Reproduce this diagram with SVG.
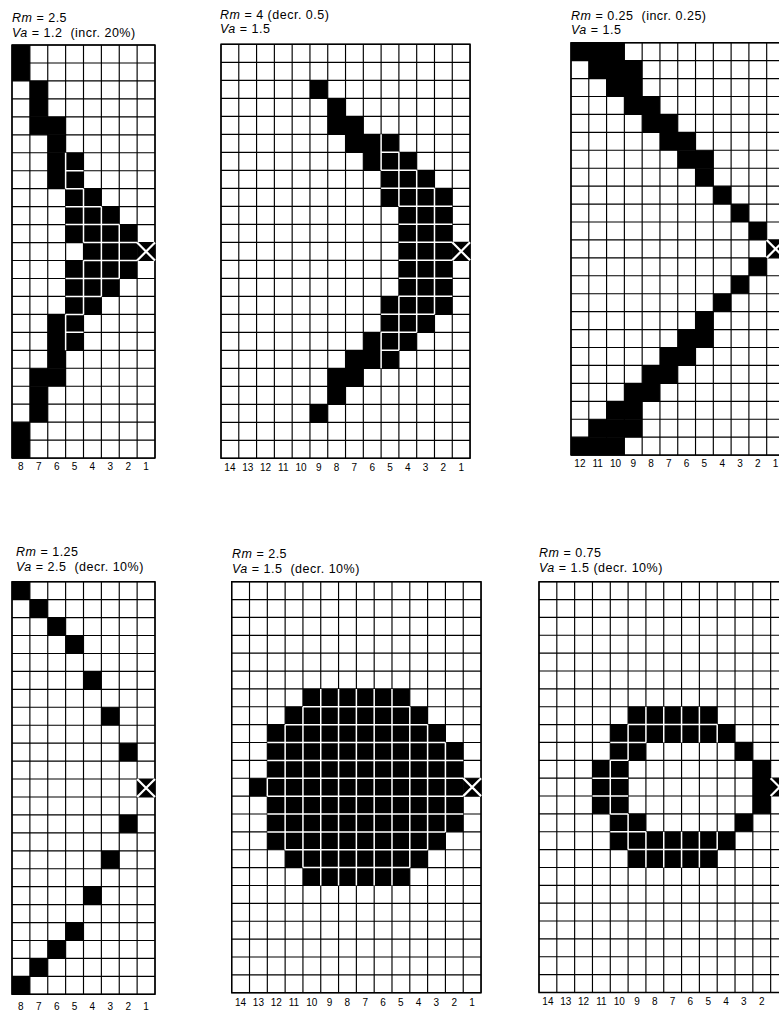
<svg xmlns="http://www.w3.org/2000/svg" xmlns:xlink="http://www.w3.org/1999/xlink" width="779" height="1012" viewBox="0 0 779 1012">
<style>
.grid{fill:none;stroke:#000;stroke-width:1.15;vector-effect:non-scaling-stroke}
.frame{fill:none;stroke:#000;stroke-width:1.4;vector-effect:non-scaling-stroke}
.b rect,rect.b{fill:#000}
.w{fill:none;stroke:#fff;stroke-width:1.5;vector-effect:non-scaling-stroke}
.x{fill:none;stroke:#fff;stroke-width:2.2;vector-effect:non-scaling-stroke}
.t{font-family:"Liberation Sans",Arial,sans-serif;font-size:12.5px;letter-spacing:0.5px;fill:#000}
.i{font-style:italic}
.n{font-family:"Liberation Sans",Arial,sans-serif;font-size:10px;fill:#000;text-anchor:middle}
</style>
<defs>
<path id="g8" class="grid" d="M0 0V23M1 0V23M2 0V23M3 0V23M4 0V23M5 0V23M6 0V23M7 0V23M8 0V23M0 0H8M0 1H8M0 2H8M0 3H8M0 4H8M0 5H8M0 6H8M0 7H8M0 8H8M0 9H8M0 10H8M0 11H8M0 12H8M0 13H8M0 14H8M0 15H8M0 16H8M0 17H8M0 18H8M0 19H8M0 20H8M0 21H8M0 22H8M0 23H8"/>
<path id="g12" class="grid" d="M0 0V23M1 0V23M2 0V23M3 0V23M4 0V23M5 0V23M6 0V23M7 0V23M8 0V23M9 0V23M10 0V23M11 0V23M12 0V23M0 0H12M0 1H12M0 2H12M0 3H12M0 4H12M0 5H12M0 6H12M0 7H12M0 8H12M0 9H12M0 10H12M0 11H12M0 12H12M0 13H12M0 14H12M0 15H12M0 16H12M0 17H12M0 18H12M0 19H12M0 20H12M0 21H12M0 22H12M0 23H12"/>
<path id="g14" class="grid" d="M0 0V23M1 0V23M2 0V23M3 0V23M4 0V23M5 0V23M6 0V23M7 0V23M8 0V23M9 0V23M10 0V23M11 0V23M12 0V23M13 0V23M14 0V23M0 0H14M0 1H14M0 2H14M0 3H14M0 4H14M0 5H14M0 6H14M0 7H14M0 8H14M0 9H14M0 10H14M0 11H14M0 12H14M0 13H14M0 14H14M0 15H14M0 16H14M0 17H14M0 18H14M0 19H14M0 20H14M0 21H14M0 22H14M0 23H14"/>
</defs>
<rect width="779" height="1012" fill="#fff"/>

<g id="panel-1">
<text class="t" x="12" y="21.5" xml:space="preserve"><tspan class="i">Rm</tspan> = 2.5</text>
<text class="t" x="12" y="36.5" xml:space="preserve"><tspan class="i">Va</tspan> = 1.2  (incr. 20%)</text>
<g transform="translate(12 45) scale(17.875 17.96)">
<use href="#g8"/>
<rect class="frame" width="8" height="23"/>
<g class="b">
<rect x="0" y="0" width="1" height="2"/>
<rect x="1" y="2" width="1" height="2"/>
<rect x="1" y="4" width="2" height="1"/>
<rect x="2" y="5" width="1" height="1"/>
<rect x="2" y="6" width="2" height="2"/>
<rect x="3" y="8" width="2" height="1"/>
<rect x="3" y="9" width="3" height="1"/>
<rect x="3" y="10" width="4" height="1"/>
<rect x="4" y="11" width="3" height="1"/>
<rect x="3" y="12" width="4" height="1"/>
<rect x="3" y="13" width="3" height="1"/>
<rect x="3" y="14" width="2" height="1"/>
<rect x="2" y="15" width="2" height="2"/>
<rect x="2" y="17" width="1" height="1"/>
<rect x="1" y="18" width="2" height="1"/>
<rect x="1" y="19" width="1" height="2"/>
<rect x="0" y="21" width="1" height="2"/>
<rect x="7" y="11" width="1" height="1"/>
</g>
<path class="w" d="M3 6V8M3 15V17M4 8V11M4 12V15M5 9V14M6 10V13M3 7H4M3 8H4M3 9H5M3 10H6M4 11H7M4 12H7M3 13H6M3 14H5M3 15H4M3 16H4"/>
<path class="x" d="M7 11L8 12M8 11L7 12"/>
</g>
<text class="n" y="470"><tspan x="20.9">8</tspan><tspan x="38.8">7</tspan><tspan x="56.7">6</tspan><tspan x="74.6">5</tspan><tspan x="92.4">4</tspan><tspan x="110.3">3</tspan><tspan x="128.2">2</tspan><tspan x="146.1">1</tspan></text>
</g>

<g id="panel-2">
<text class="t" x="220" y="18.5" xml:space="preserve"><tspan class="i">Rm</tspan> = 4 (decr. 0.5)</text>
<text class="t" x="220" y="33" xml:space="preserve"><tspan class="i">Va</tspan> = 1.5</text>
<g transform="translate(221 44.3) scale(17.79 18)">
<use href="#g14"/>
<rect class="frame" width="14" height="23"/>
<g class="b">
<rect x="5" y="2" width="1" height="1"/>
<rect x="6" y="3" width="1" height="1"/>
<rect x="6" y="4" width="2" height="1"/>
<rect x="7" y="5" width="3" height="1"/>
<rect x="8" y="6" width="3" height="1"/>
<rect x="9" y="7" width="3" height="1"/>
<rect x="9" y="8" width="4" height="1"/>
<rect x="10" y="9" width="3" height="5"/>
<rect x="9" y="14" width="4" height="1"/>
<rect x="9" y="15" width="3" height="1"/>
<rect x="8" y="16" width="3" height="1"/>
<rect x="7" y="17" width="3" height="1"/>
<rect x="6" y="18" width="2" height="1"/>
<rect x="6" y="19" width="1" height="1"/>
<rect x="5" y="20" width="1" height="1"/>
<rect x="13" y="11" width="1" height="1"/>
</g>
<path class="w" d="M9 5V7M9 16V18M10 6V9M10 14V17M11 7V16M12 8V15M9 6H10M9 7H11M9 8H12M10 9H13M10 10H13M10 11H13M10 12H13M10 13H13M10 14H13M9 15H12M9 16H11M9 17H10"/>
<path class="x" d="M13 11L14 12M14 11L13 12"/>
</g>
<text class="n" y="471"><tspan x="229.9">14</tspan><tspan x="247.7">13</tspan><tspan x="265.5">12</tspan><tspan x="283.3">11</tspan><tspan x="301.1">10</tspan><tspan x="318.8">9</tspan><tspan x="336.6">8</tspan><tspan x="354.4">7</tspan><tspan x="372.2">6</tspan><tspan x="390">5</tspan><tspan x="407.8">4</tspan><tspan x="425.6">3</tspan><tspan x="443.4">2</tspan><tspan x="461.2">1</tspan></text>
</g>

<g id="panel-3">
<text class="t" x="571" y="20" xml:space="preserve"><tspan class="i">Rm</tspan> = 0.25  (incr. 0.25)</text>
<text class="t" x="571" y="33.5" xml:space="preserve"><tspan class="i">Va</tspan> = 1.5</text>
<g transform="translate(571 42.7) scale(17.79 17.93)">
<use href="#g12"/>
<rect class="frame" width="12" height="23"/>
<g class="b">
<rect x="0" y="0" width="3" height="1"/>
<rect x="1" y="1" width="3" height="1"/>
<rect x="2" y="2" width="2" height="1"/>
<rect x="3" y="3" width="2" height="1"/>
<rect x="4" y="4" width="2" height="1"/>
<rect x="5" y="5" width="2" height="1"/>
<rect x="6" y="6" width="2" height="1"/>
<rect x="7" y="7" width="1" height="1"/>
<rect x="8" y="8" width="1" height="1"/>
<rect x="9" y="9" width="1" height="1"/>
<rect x="10" y="10" width="1" height="1"/>
<rect x="11" y="11" width="1" height="1"/>
<rect x="10" y="12" width="1" height="1"/>
<rect x="9" y="13" width="1" height="1"/>
<rect x="8" y="14" width="1" height="1"/>
<rect x="7" y="15" width="1" height="1"/>
<rect x="6" y="16" width="2" height="1"/>
<rect x="5" y="17" width="2" height="1"/>
<rect x="4" y="18" width="2" height="1"/>
<rect x="3" y="19" width="2" height="1"/>
<rect x="2" y="20" width="2" height="1"/>
<rect x="1" y="21" width="3" height="1"/>
<rect x="0" y="22" width="3" height="1"/>
</g>
<path class="x" d="M11 11L12 12M12 11L11 12"/>
</g>
<text class="n" y="467"><tspan x="579.9">12</tspan><tspan x="597.7">11</tspan><tspan x="615.5">10</tspan><tspan x="633.3">9</tspan><tspan x="651.1">8</tspan><tspan x="668.8">7</tspan><tspan x="686.6">6</tspan><tspan x="704.4">5</tspan><tspan x="722.2">4</tspan><tspan x="740">3</tspan><tspan x="757.8">2</tspan><tspan x="775.6">1</tspan></text>
</g>

<g id="panel-4">
<text class="t" x="16" y="556" xml:space="preserve"><tspan class="i">Rm</tspan> = 1.25</text>
<text class="t" x="16" y="571" xml:space="preserve"><tspan class="i">Va</tspan> = 2.5  (decr. 10%)</text>
<g transform="translate(12 581.7) scale(17.875 17.94)">
<use href="#g8"/>
<rect class="frame" width="8" height="23"/>
<g class="b">
<rect x="0" y="0" width="1" height="1"/>
<rect x="1" y="1" width="1" height="1"/>
<rect x="2" y="2" width="1" height="1"/>
<rect x="3" y="3" width="1" height="1"/>
<rect x="4" y="5" width="1" height="1"/>
<rect x="5" y="7" width="1" height="1"/>
<rect x="6" y="9" width="1" height="1"/>
<rect x="7" y="11" width="1" height="1"/>
<rect x="6" y="13" width="1" height="1"/>
<rect x="5" y="15" width="1" height="1"/>
<rect x="4" y="17" width="1" height="1"/>
<rect x="3" y="19" width="1" height="1"/>
<rect x="2" y="20" width="1" height="1"/>
<rect x="1" y="21" width="1" height="1"/>
<rect x="0" y="22" width="1" height="1"/>
</g>
<path class="x" d="M7 11L8 12M8 11L7 12"/>
</g>
<text class="n" y="1010"><tspan x="20.9">8</tspan><tspan x="38.8">7</tspan><tspan x="56.7">6</tspan><tspan x="74.6">5</tspan><tspan x="92.4">4</tspan><tspan x="110.3">3</tspan><tspan x="128.2">2</tspan><tspan x="146.1">1</tspan></text>
</g>

<g id="panel-5">
<text class="t" x="232" y="558" xml:space="preserve"><tspan class="i">Rm</tspan> = 2.5</text>
<text class="t" x="232" y="573" xml:space="preserve"><tspan class="i">Va</tspan> = 1.5  (decr. 10%)</text>
<g transform="translate(231.7 581.7) scale(17.81 17.87)">
<use href="#g14"/>
<rect class="frame" width="14" height="23"/>
<g class="b">
<rect x="4" y="6" width="6" height="1"/>
<rect x="3" y="7" width="8" height="1"/>
<rect x="2" y="8" width="10" height="1"/>
<rect x="2" y="9" width="11" height="5"/>
<rect x="1" y="11" width="1" height="1"/>
<rect x="2" y="14" width="10" height="1"/>
<rect x="3" y="15" width="8" height="1"/>
<rect x="4" y="16" width="6" height="1"/>
<rect x="13" y="11" width="1" height="1"/>
</g>
<path class="w" d="M2 11V12M3 8V15M4 7V16M5 6V17M6 6V17M7 6V17M8 6V17M9 6V17M10 7V16M11 8V15M12 9V14M4 7H10M3 8H11M2 9H12M2 10H13M2 11H13M2 12H13M2 13H13M2 14H12M3 15H11M4 16H10"/>
<path class="x" d="M13 11L14 12M14 11L13 12"/>
</g>
<text class="n" y="1006"><tspan x="240.6">14</tspan><tspan x="258.4">13</tspan><tspan x="276.2">12</tspan><tspan x="294">11</tspan><tspan x="311.8">10</tspan><tspan x="329.6">9</tspan><tspan x="347.4">8</tspan><tspan x="365.2">7</tspan><tspan x="383">6</tspan><tspan x="400.8">5</tspan><tspan x="418.6">4</tspan><tspan x="436.4">3</tspan><tspan x="454.2">2</tspan><tspan x="472">1</tspan></text>
</g>

<g id="panel-6">
<text class="t" x="539" y="556.5" xml:space="preserve"><tspan class="i">Rm</tspan> = 0.75</text>
<text class="t" x="539" y="572" xml:space="preserve"><tspan class="i">Va</tspan> = 1.5 (decr. 10%)</text>
<g transform="translate(539 581.7) scale(17.82 17.86)">
<use href="#g14"/>
<rect class="frame" width="14" height="23"/>
<g class="b">
<rect x="5" y="7" width="5" height="1"/>
<rect x="4" y="8" width="7" height="1"/>
<rect x="4" y="9" width="2" height="1"/>
<rect x="11" y="9" width="1" height="1"/>
<rect x="3" y="10" width="2" height="3"/>
<rect x="12" y="10" width="1" height="3"/>
<rect x="4" y="13" width="2" height="1"/>
<rect x="11" y="13" width="1" height="1"/>
<rect x="4" y="14" width="7" height="1"/>
<rect x="5" y="15" width="5" height="1"/>
<rect x="13" y="11" width="1" height="1"/>
</g>
<path class="w" d="M4 10V13M5 8V10M5 13V15M6 7V9M6 14V16M7 7V9M7 14V16M8 7V9M8 14V16M9 7V9M9 14V16M10 8V9M10 14V15M5 8H10M4 9H6M4 10H5M3 11H5M3 12H5M4 13H5M4 14H6M5 15H10"/>
<path class="x" d="M13 11L14 12M14 11L13 12"/>
</g>
<text class="n" y="1005"><tspan x="547.9">14</tspan><tspan x="565.7">13</tspan><tspan x="583.6">12</tspan><tspan x="601.4">11</tspan><tspan x="619.2">10</tspan><tspan x="637">9</tspan><tspan x="654.8">8</tspan><tspan x="672.6">7</tspan><tspan x="690.4">6</tspan><tspan x="708.3">5</tspan><tspan x="726.1">4</tspan><tspan x="743.9">3</tspan><tspan x="761.7">2</tspan></text>
</g>
</svg>
